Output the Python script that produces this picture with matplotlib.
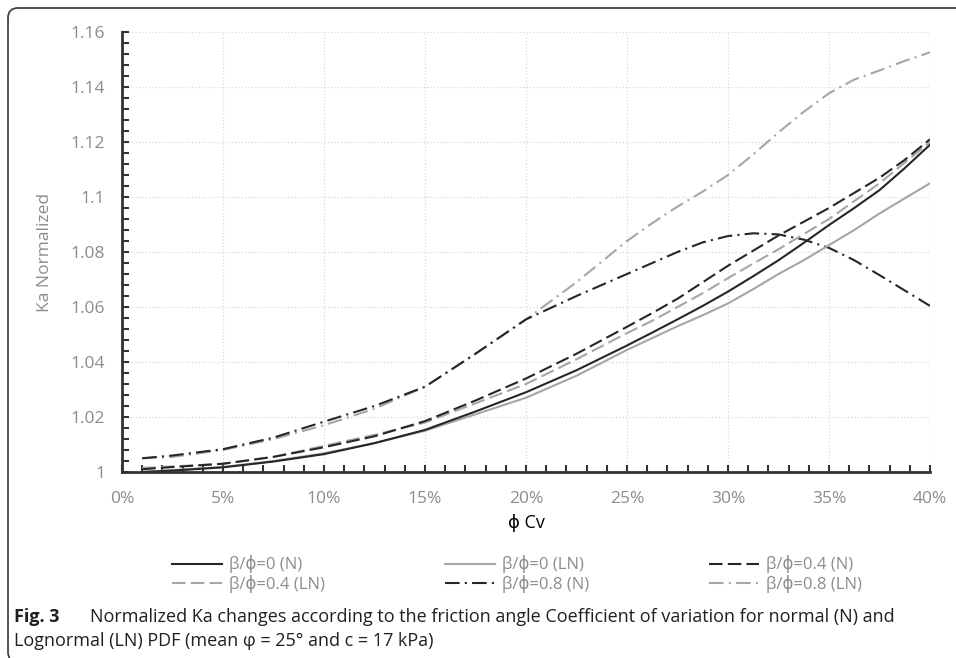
import numpy as np
import matplotlib
matplotlib.use("Agg")
import matplotlib.pyplot as plt
from matplotlib.ticker import MultipleLocator, FuncFormatter, PercentFormatter
from matplotlib.patches import FancyBboxPatch

plt.rcParams["font.family"] = ["Open Sans", "DejaVu Sans"]

# coefficient of variation of phi (fraction)
cv = [0.01, 0.025, 0.05, 0.075, 0.10, 0.125, 0.15, 0.175, 0.20, 0.225,
      0.25, 0.2625, 0.275, 0.2875, 0.30, 0.3125, 0.325, 0.3375,
      0.35, 0.3625, 0.375, 0.3875, 0.40]

ka_0_n = [1.000, 1.0005, 1.0017, 1.0038, 1.0065, 1.0105, 1.0153, 1.022, 1.029,
          1.037, 1.046, 1.0507, 1.0555, 1.0604, 1.0656, 1.0712, 1.077, 1.0833,
          1.0898, 1.096, 1.1025, 1.1105, 1.119]
ka_0_ln = [1.000, 1.0007, 1.0018, 1.004, 1.0068, 1.0105, 1.015, 1.021, 1.027,
           1.035, 1.0444, 1.0487, 1.053, 1.057, 1.0613, 1.0665, 1.072, 1.077,
           1.0825, 1.088, 1.094, 1.0995, 1.105]
ka_04_n = [1.001, 1.0018, 1.003, 1.0055, 1.009, 1.013, 1.0185, 1.026, 1.034,
           1.043, 1.0528, 1.0578, 1.063, 1.069, 1.075, 1.0805, 1.086, 1.091,
           1.096, 1.1015, 1.107, 1.1135, 1.121]
ka_04_ln = [1.0015, 1.002, 1.003, 1.0055, 1.0095, 1.0135, 1.018, 1.025, 1.032,
            1.041, 1.0505, 1.055, 1.060, 1.065, 1.0705, 1.0758, 1.081, 1.0865,
            1.092, 1.0985, 1.105, 1.1125, 1.120]
ka_08_n = [1.005, 1.006, 1.0083, 1.0125, 1.0183, 1.024, 1.031, 1.043, 1.0555,
           1.064, 1.072, 1.076, 1.080, 1.0835, 1.0858, 1.0868, 1.0864, 1.0845,
           1.0815, 1.077, 1.0716, 1.066, 1.0604]
ka_08_ln = [1.005, 1.0055, 1.008, 1.012, 1.017, 1.023, 1.031, 1.043, 1.0555,
            1.069, 1.084, 1.0905, 1.0965, 1.102, 1.108, 1.1155, 1.1235, 1.131,
            1.1377, 1.1427, 1.146, 1.1495, 1.1526]

DARK = "#262626"
LIGHT = "#a6a6a6"
DASH = (0, (6.5, 2.5))
DASHDOT = (0, (7, 2.5, 1, 2.5))

series = [
    (ka_0_n, "β/ϕ=0 (N)", DARK, "-"),
    (ka_0_ln, "β/ϕ=0 (LN)", LIGHT, "-"),
    (ka_04_n, "β/ϕ=0.4 (N)", DARK, DASH),
    (ka_04_ln, "β/ϕ=0.4 (LN)", LIGHT, DASH),
    (ka_08_n, "β/ϕ=0.8 (N)", DARK, DASHDOT),
    (ka_08_ln, "β/ϕ=0.8 (LN)", LIGHT, DASHDOT),
]

W, H = 956, 658
fig = plt.figure(figsize=(W / 100, H / 100), dpi=100)
ax = fig.add_axes([122 / W, 1 - 472 / H, (930 - 122) / W, (472 - 32) / H])

handles = []
# light ones first so the dark ones sit on top
for vals, lab, col, ls in series[::-1]:
    h, = ax.plot(cv, vals, color=col, ls=ls, lw=1.5, label=lab)
    handles.insert(0, h)

ax.set_xlim(0, 0.40)
ax.set_ylim(1.0, 1.16)
ax.xaxis.set_major_locator(MultipleLocator(0.05))
ax.xaxis.set_minor_locator(MultipleLocator(0.01))
ax.yaxis.set_major_locator(MultipleLocator(0.02))
ax.yaxis.set_minor_locator(MultipleLocator(0.004))
ax.xaxis.set_major_formatter(PercentFormatter(xmax=1, decimals=0))
ax.yaxis.set_major_formatter(FuncFormatter(lambda v, p: f"{round(v, 3):g}"))

for s in ["top", "right"]:
    ax.spines[s].set_visible(False)
for s in ["left", "bottom"]:
    ax.spines[s].set_color("#333333")
    ax.spines[s].set_linewidth(2)

ax.tick_params(which="both", direction="in", length=5, width=1.5, color="#333333",
               labelcolor="#8c8c8c", labelsize=12.5)
ax.tick_params(axis="y", which="both", pad=12)
ax.tick_params(axis="x", which="both", pad=13.5)
ax.grid(True, which="major", color="#d9d9d9", ls=":", lw=0.9)

ax.set_xlabel("ϕ Cv", fontsize=13, color="black", labelpad=5)
ax.set_ylabel("Ka Normalized", fontsize=12.5, color="#8c8c8c", labelpad=13)

# legend: matplotlib fills columns first, so reorder to read row-wise
order = [0, 3, 1, 4, 2, 5]
leg = fig.legend([handles[i] for i in order], [series[i][1] for i in order],
                 ncol=3, loc="upper left", bbox_to_anchor=(164 / W, 1 - 547 / H),
                 frameon=False, fontsize=12, handlelength=3.0, handletextpad=0.42,
                 columnspacing=7.2, labelspacing=0.1, borderpad=0)
for t in leg.get_texts():
    t.set_color("#8c8c8c")

# caption
fig.text(14 / W, 1 - 617 / H, "Fig. 3", fontsize=13, fontweight="bold",
         color="#231f20", va="center")
fig.text(90 / W, 1 - 617 / H,
         "Normalized Ka changes according to the friction angle Coefficient of variation for normal (N) and",
         fontsize=13, color="#231f20", va="center")
fig.text(14 / W, 1 - 641 / H, "Lognormal (LN) PDF (mean φ = 25° and c = 17 kPa)",
         fontsize=13, color="#231f20", va="center")

# rounded frame around the figure
frame = FancyBboxPatch((8, -4), 980, 654, boxstyle="round,pad=0,rounding_size=10",
                       transform=None, fill=False, edgecolor="#444444", lw=1.3)
fig.patches.append(frame)

fig.savefig("out.png", dpi=100)
